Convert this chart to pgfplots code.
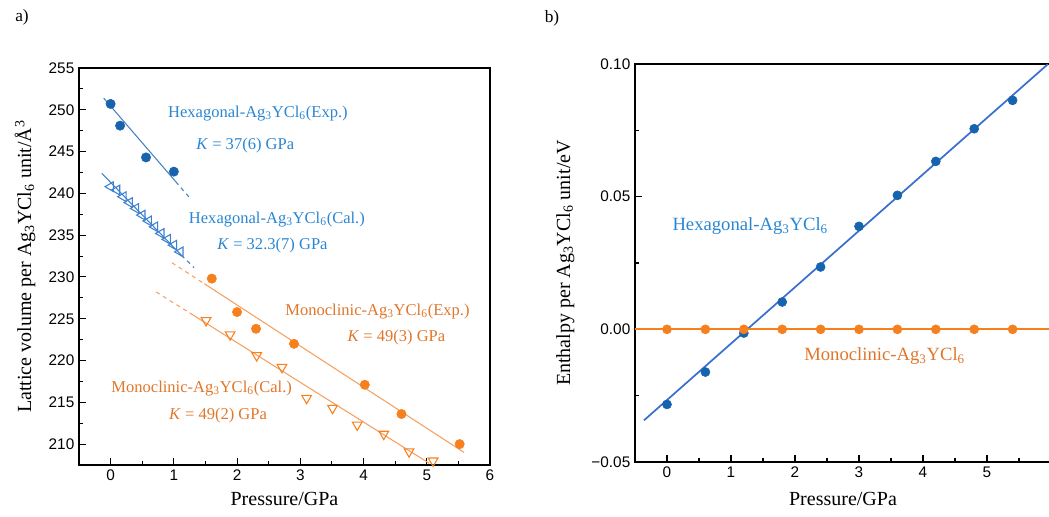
\documentclass[border=0pt]{standalone}
\usepackage{pgfplots}
\pgfplotsset{compat=1.18}
\usepackage{fontspec}
\setmainfont{Liberation Serif}
\setsansfont{Liberation Sans}

\definecolor{hexdot}{HTML}{1763AE}
\definecolor{hextri}{HTML}{3C80D2}
\definecolor{hextext}{HTML}{2A86D2}
\definecolor{monodot}{HTML}{F7801E}
\definecolor{monoline}{HTML}{F6A062}
\definecolor{monotext}{HTML}{E0762A}
\definecolor{hexlineb}{HTML}{3A6FD0}

\newcommand{\agy}{Ag\textsubscript{3}YCl\textsubscript{6}}

\pgfplotsset{
  panel/.style={
    scale only axis,
    axis line style={line width=0.9pt},
    tick align=inside,
    xtick pos=bottom, ytick pos=left,
    major tick length=5pt, minor tick length=3pt,
    tick style={black, line width=0.8pt},
    ticklabel style={font=\sffamily\fontsize{11.5}{12}\selectfont},
    /pgf/number format/assume math mode=true,
    label style={font=\fontsize{15}{16}\selectfont},
    clip=true,
  },
}

\begin{document}
\begin{tikzpicture}
\useasboundingbox (0,0) rectangle (786.75pt,387.75pt);

\node[font=\fontsize{13}{14}\selectfont] at (16.5pt,375pt) {a)};
\node[font=\fontsize{13}{14}\selectfont] at (414pt,374.25pt) {b)};

% panel a
\begin{axis}[panel,
  at={(59.25pt,39pt)}, anchor=south west,
  width=308.25pt, height=297.75pt,
  xmin=-0.5, xmax=6, ymin=207.5, ymax=255,
  xtick={0,1,2,3,4,5,6}, minor x tick num=1,
  ytick={210,215,220,225,230,235,240,245,250,255}, minor y tick num=1,
  xlabel={Pressure/GPa},
  ylabel={Lattice volume per \agy{} unit/Å\textsuperscript{3}},
  xlabel style={yshift=-2pt}, ylabel style={yshift=3pt},
]
% fits
\addplot[hexdot!80!white, line width=0.8pt] coordinates {(-0.11,251.4) (1.03,241.4)};
\addplot[hexdot!80!white, line width=0.8pt, dashed] coordinates {(1.03,241.4) (1.27,239.3)};
\addplot[hextri, line width=0.8pt] coordinates {(-0.14,242.4) (1.12,232.6)};
\addplot[hextri, line width=0.8pt, dashed] coordinates {(1.12,232.6) (1.32,231.1)};
\addplot[monoline, line width=0.8pt, dashed] coordinates {(0.97,231.7) (1.48,229.2)};
\addplot[monoline, line width=0.8pt] coordinates {(1.48,229.2) (5.59,209.0)};
\addplot[monoline, line width=0.8pt, dashed] coordinates {(0.72,228.2) (1.25,225.7)};
\addplot[monoline, line width=0.8pt] coordinates {(1.25,225.7) (5.04,207.7)};
% data
\addplot[only marks, mark=*, mark size=3.5pt, color=hexdot] coordinates {
  (0,250.7) (0.15,248.1) (0.56,244.3) (1.0,242.6)};
\addplot[only marks, mark=triangle, mark size=4.2pt, color=hextri,
  mark options={rotate=90, line width=0.8pt}] coordinates {
  (0,240.8) (0.1,240.4) (0.2,239.6) (0.3,238.9) (0.4,238.2) (0.5,237.4)
  (0.6,236.7) (0.7,236.0) (0.8,235.2) (0.9,234.5) (1.0,233.8) (1.1,233.0)};
\addplot[only marks, mark=*, mark size=3.5pt, color=monodot] coordinates {
  (1.6,229.8) (2.0,225.8) (2.3,223.8) (2.9,222.0) (4.02,217.1) (4.6,213.6) (5.52,210.0)};
\addplot[only marks, mark=triangle, mark size=4.2pt, color=monodot,
  mark options={rotate=180, line width=0.8pt}] coordinates {
  (1.51,224.8) (1.89,223.1) (2.31,220.6) (2.71,219.2) (3.1,215.5)
  (3.51,214.3) (3.9,212.3) (4.32,211.2) (4.72,209.1) (5.1,208.0)};
% annotations
\begin{scope}[font=\fontsize{12.4}{13}\selectfont]
\node[hextext] at (axis cs:2.33,249.6) {Hexagonal-\agy(Exp.)};
\node[hextext] at (axis cs:2.13,245.7) {\textit{K} = 37(6) GPa};
\node[hextext] at (axis cs:2.63,236.9) {Hexagonal-\agy(Cal.)};
\node[hextext] at (axis cs:2.56,233.8) {\textit{K} = 32.3(7) GPa};
\node[monotext] at (axis cs:4.22,225.9) {Monoclinic-\agy(Exp.)};
\node[monotext] at (axis cs:4.52,222.8) {\textit{K} = 49(3) GPa};
\node[monotext] at (axis cs:1.44,216.7) {Monoclinic-\agy(Cal.)};
\node[monotext] at (axis cs:1.70,213.4) {\textit{K} = 49(2) GPa};
\end{scope}
\end{axis}

% panel b
\begin{axis}[panel,
  at={(476.25pt,41.25pt)}, anchor=south west,
  width=312pt, height=298.5pt,
  xmin=-0.5, xmax=6, ymin=-0.05, ymax=0.10,
  xtick={0,1,2,3,4,5}, minor xtick={-0.5,0.5,1.5,2.5,3.5,4.5,5.5},
  ytick={-0.05,0,0.05,0.10}, minor y tick num=1,
  yticklabels={−0.05,0.00,0.05,0.10},
  xlabel={Pressure/GPa},
  ylabel={Enthalpy per \agy{} unit/eV},
  xlabel style={yshift=-4pt}, ylabel style={yshift=6pt},
]
\addplot[hexlineb, line width=1.3pt] coordinates {(-0.36,-0.0343) (5.95,0.0999)};
\addplot[monodot, line width=1.3pt] coordinates {(-0.5,0) (6,0)};
\addplot[only marks, mark=*, mark size=3.4pt, color=hexdot] coordinates {
  (0,-0.0283) (0.6,-0.0161) (1.2,-0.0014) (1.8,0.0103) (2.4,0.0235)
  (3.0,0.0388) (3.6,0.0505) (4.2,0.0633) (4.8,0.0756) (5.4,0.0863)};
\addplot[only marks, mark=*, mark size=3.4pt, color=monodot] coordinates {
  (0,0) (0.6,0) (1.2,0) (1.8,0) (2.4,0) (3.0,0) (3.6,0) (4.2,0) (4.8,0) (5.4,0)};
\begin{scope}[font=\fontsize{14}{15}\selectfont]
\node[hextext] at (axis cs:1.30,0.0388) {Hexagonal-\agy};
\node[monotext] at (axis cs:3.40,-0.0102) {Monoclinic-\agy};
\end{scope}
\end{axis}
\end{tikzpicture}
\end{document}
